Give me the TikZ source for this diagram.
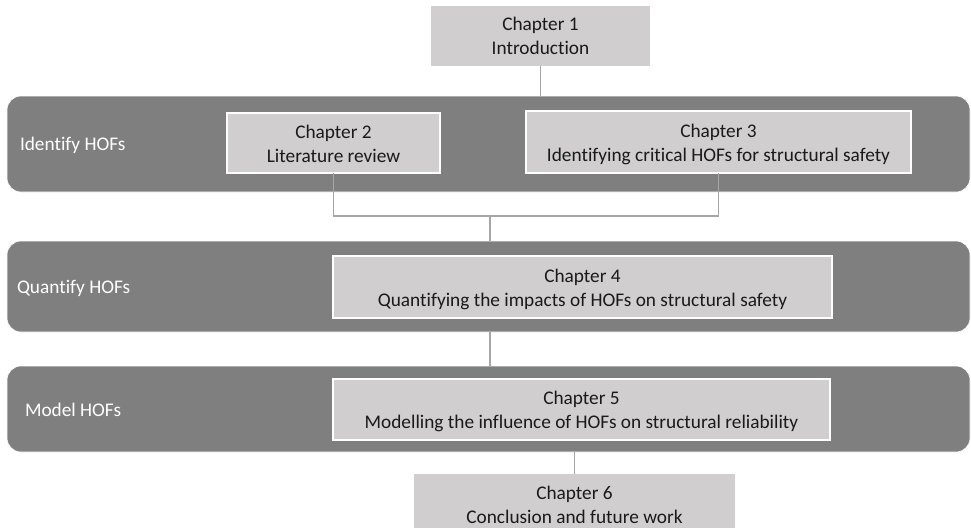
\documentclass[tikz,border=0pt]{standalone}
\usepackage{fontspec}
\setmainfont[Ligatures=NoCommon]{Carlito}
\begin{document}
\begin{tikzpicture}[x=1pt,y=-1pt,
  every node/.style={font=\fontsize{19.3}{24}\selectfont, align=center, inner sep=0pt, outer sep=0pt},
  band/.style={fill=bandgrey, draw=white, line width=0.6pt, rounded corners=14pt},
  plain chapter/.style={fill=boxgrey, text=textdark, text height=42pt, text depth=4pt},
  chapter/.style={plain chapter, draw=white, line width=1.6pt},
  phase/.style={text=white, anchor=west},
  link/.style={draw=linegrey, line width=1.3pt}]
\definecolor{bandgrey}{HTML}{7F7F7F}
\definecolor{boxgrey}{HTML}{D0CECE}
\definecolor{linegrey}{HTML}{A6A6A6}
\definecolor{textdark}{HTML}{1A1A1A}
\useasboundingbox (0,0) rectangle (971,527);
\clip (0,0) rectangle (971,527);

% phase bands
\node[band, minimum width=963pt, minimum height=96pt] (band1) at (488.5,144) {};
\node[band, minimum width=963pt, minimum height=91pt] (band2) at (488.5,286.5) {};
\node[band, minimum width=963pt, minimum height=86pt] (band3) at (488.5,409) {};

% phase labels
\node[phase] (lab1) at (20,145) {Identify HOFs};
\node[phase] (lab2) at (17,288) {Quantify HOFs};
\node[phase] (lab3) at (25,410) {Model HOFs};

% chapters
\node[plain chapter, minimum width=219pt, minimum height=60pt] (ch1) at (540.5,36) {Chapter 1\\Introduction};
\node[chapter, minimum width=213pt, minimum height=60pt] (ch2) at (333.5,143) {Chapter 2\\Literature review};
\node[chapter, minimum width=385pt, minimum height=62pt] (ch3) at (718.5,142) {Chapter 3\\Identifying critical HOFs for structural safety};
\node[chapter, minimum width=499pt, minimum height=62pt] (ch4) at (582.5,287) {Chapter 4\\Quantifying the impacts of HOFs on structural safety};
\node[chapter, minimum width=497pt, minimum height=61pt] (ch5) at (581.5,409.5) {Chapter 5\\Modelling the influence of HOFs on structural reliability};
\node[plain chapter, minimum width=321pt, minimum height=60pt] (ch6) at (574.5,504) {Chapter 6\\Conclusion and future work};

% connectors
\coordinate (join) at (490,216);
\draw[link] (ch1.south) -- (ch1.south |- band1.north);
\draw[link] (ch2.south) |- (join);
\draw[link] (ch3.south) |- (join);
\draw[link] (join) -- (join |- band2.north);
\draw[link] (join |- band2.south) -- (join |- band3.north);
\draw[link] (ch6.north |- band3.south) -- (ch6.north);
\end{tikzpicture}
\end{document}
